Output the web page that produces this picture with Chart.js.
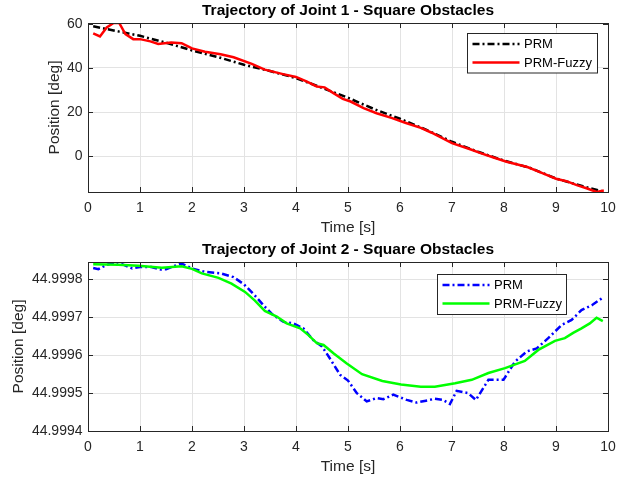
<!DOCTYPE html>
<html>
<head>
<meta charset="utf-8">
<script src="https://cdn.jsdelivr.net/npm/chart.js@4.4.0/dist/chart.umd.min.js"></script>
<style>
  html, body { margin: 0; padding: 0; background: #fff; }
  .panel { position: absolute; left: 0; width: 635px; }
  #panel1 { top: 0; height: 240px; }
  #panel2 { top: 238px; height: 243px; }
</style>
</head>
<body>
<div class="panel" id="panel1"><canvas id="joint1Chart" width="635" height="240"></canvas></div>
<div class="panel" id="panel2"><canvas id="joint2Chart" width="635" height="243"></canvas></div>
<script>
// x axis ticks (shared)
const timeTicks = [0, 1, 2, 3, 4, 5, 6, 7, 8, 9, 10];

// Joint 1 - PRM
const j1PrmTime = [0.1, 0.6, 1.0, 1.5, 2.0, 2.5, 3.0, 3.5, 4.0, 4.5, 5.0, 5.5, 6.0, 6.5, 7.0, 7.5, 8.0, 8.5, 9.0, 9.5, 9.9];
const j1PrmPos = [58.8, 56.4, 54.5, 51.4, 47.9, 44.9, 41.4, 38.6, 35.4, 31.0, 26.5, 21.4, 17.0, 12.1, 6.6, 2.1, -1.9, -5.2, -10.0, -13.4, -15.9];

// Joint 1 - PRM-Fuzzy
const j1FuzzyTime = [0.1, 0.23, 0.36, 0.5, 0.6, 0.72, 0.87, 1.0, 1.2, 1.35, 1.6, 1.8, 2.0, 2.25, 2.55, 2.8, 3.15, 3.4, 3.75, 4.0, 4.2, 4.4, 4.55, 4.72, 4.9, 5.05, 5.3, 5.55, 5.85, 6.1, 6.4, 6.6, 7.0, 7.35, 7.55, 7.8, 8.05, 8.45, 8.75, 9.0, 9.2, 9.4, 9.6, 9.78, 9.92];
const j1FuzzyPos = [55.6, 54.2, 58.3, 60.4, 60.3, 55.3, 53.0, 53.0, 52.0, 50.8, 51.5, 51.2, 48.8, 47.3, 46.2, 44.8, 41.8, 39.2, 37.2, 35.9, 33.9, 31.6, 31.2, 28.6, 26.0, 24.8, 21.8, 19.5, 17.3, 15.2, 12.9, 10.8, 6.0, 3.2, 1.5, -0.5, -2.4, -4.8, -7.7, -10.1, -11.2, -13.0, -14.5, -16.1, -15.4];
const j1Ticks = [0, 20, 40, 60];

// Joint 2 - PRM
const j2PrmTime = [0.1, 0.2, 0.35, 0.55, 0.7, 0.85, 1.0, 1.22, 1.4, 1.5, 1.65, 1.8, 2.0, 2.25, 2.55, 2.8, 3.0, 3.2, 3.4, 3.56, 3.76, 3.95, 4.14, 4.33, 4.5, 4.65, 4.85, 5.0, 5.17, 5.36, 5.55, 5.68, 5.87, 6.13, 6.32, 6.5, 6.67, 6.83, 6.96, 7.09, 7.31, 7.46, 7.7, 7.99, 8.21, 8.44, 8.63, 8.85, 9.11, 9.3, 9.49, 9.69, 9.88];
const j2PrmPos = [44.99983, 44.999827, 44.999838, 44.999846, 44.999838, 44.999829, 44.999833, 44.999833, 44.999826, 44.999827, 44.999835, 44.999842, 44.999829, 44.99982, 44.999816, 44.999806, 44.999787, 44.999759, 44.999728, 44.999706, 44.999688, 44.999684, 44.999671, 44.99964, 44.999623, 44.999592, 44.999548, 44.999533, 44.9995, 44.999478, 44.999487, 44.999484, 44.999496, 44.999482, 44.999475, 44.99948, 44.999485, 44.999482, 44.999471, 44.999506, 44.9995, 44.999482, 44.999535, 44.999535, 44.999583, 44.99961, 44.999618, 44.999645, 44.99968, 44.999693, 44.999719, 44.999732, 44.99975];

// Joint 2 - PRM-Fuzzy
const j2FuzzyTime = [0.1, 0.58, 0.97, 1.42, 1.8, 2.0, 2.19, 2.51, 2.76, 3.02, 3.21, 3.4, 3.63, 3.82, 4.08, 4.24, 4.4, 4.53, 4.72, 4.97, 5.27, 5.66, 6.02, 6.4, 6.67, 7.06, 7.38, 7.7, 8.02, 8.4, 8.66, 8.98, 9.17, 9.33, 9.49, 9.65, 9.78, 9.9];
const j2FuzzyPos = [44.99984, 44.999839, 44.999836, 44.999831, 44.999835, 44.999828, 44.999816, 44.999804, 44.999789, 44.999767, 44.999744, 44.999717, 44.999702, 44.999684, 44.999671, 44.999653, 44.999632, 44.999627, 44.999605, 44.999579, 44.99955, 44.999532, 44.999523, 44.999517, 44.999517, 44.999526, 44.999535, 44.999553, 44.999566, 44.999585, 44.999614, 44.999638, 44.999645, 44.999659, 44.999671, 44.999684, 44.999699, 44.99969];
const j2Ticks = [44.9994, 44.9995, 44.9996, 44.9997, 44.9998];

const AXIS_COLOR = '#262626';
const GRID_COLOR = '#e3e3e3';
const FONT = '"Liberation Sans", Arial, sans-serif';

function toPoints(xs, ys) {
    return xs.map((x, i) => ({ x: x, y: ys[i] }));
}

// draws the title over the plot area, the axes box, inward ticks and a matlab style legend
const matlabAxes = {
    id: 'matlabAxes',
    afterDraw(chart, args, opts) {
        const ctx = chart.ctx;
        const area = chart.chartArea;
        const xs = chart.scales.x;
        const ys = chart.scales.y;
        ctx.save();

        // title centred on the axes
        ctx.fillStyle = '#000';
        ctx.font = 'bold 15.5px ' + FONT;
        ctx.textAlign = 'center';
        ctx.textBaseline = 'middle';
        ctx.fillText(opts.title, (area.left + area.right) / 2, opts.titleY);

        ctx.strokeStyle = AXIS_COLOR;
        ctx.lineWidth = 1;
        ctx.beginPath();
        xs.ticks.forEach(t => {
            const px = Math.round(xs.getPixelForValue(t.value)) + 0.5;
            ctx.moveTo(px, area.bottom); ctx.lineTo(px, area.bottom - 5);
            ctx.moveTo(px, area.top); ctx.lineTo(px, area.top + 5);
        });
        ys.ticks.forEach(t => {
            const py = Math.round(ys.getPixelForValue(t.value)) + 0.5;
            ctx.moveTo(area.left, py); ctx.lineTo(area.left + 5, py);
            ctx.moveTo(area.right, py); ctx.lineTo(area.right - 5, py);
        });
        ctx.stroke();
        ctx.strokeRect(Math.round(area.left) + 0.5, Math.round(area.top) + 0.5,
            Math.round(area.right - area.left), Math.round(area.bottom - area.top));

        // legend
        const lg = opts.legend;
        const bx = Math.round(area.right - lg.right - lg.width) + 0.5;
        const by = Math.round(area.top + lg.top) + 0.5;
        ctx.fillStyle = '#fff';
        ctx.fillRect(bx, by, lg.width, lg.height);
        ctx.strokeStyle = AXIS_COLOR;
        ctx.lineWidth = 1;
        ctx.strokeRect(bx, by, lg.width, lg.height);
        const rows = [10.5, 29];
        chart.data.datasets.forEach((ds, i) => {
            const ry = by + rows[i];
            ctx.beginPath();
            ctx.setLineDash(ds.borderDash || []);
            ctx.strokeStyle = ds.borderColor;
            ctx.lineWidth = ds.borderWidth;
            ctx.moveTo(bx + 5, ry);
            ctx.lineTo(bx + 52, ry);
            ctx.stroke();
            ctx.setLineDash([]);
            ctx.fillStyle = '#000';
            ctx.font = '13px ' + FONT;
            ctx.textBaseline = 'middle';
            ctx.textAlign = 'left';
            ctx.fillText(ds.label, bx + 56.5, ry + 0.5);
        });
        ctx.restore();
    }
};

function makeOptions(cfg) {
    return {
        responsive: false,
        animation: false,
        layout: { padding: { left: 0, right: 27, top: cfg.areaTop, bottom: 0 } },
        plugins: {
            legend: { display: false },
            tooltip: { enabled: false },
            title: { display: false },
            matlabAxes: { title: cfg.title, titleY: cfg.titleY, legend: cfg.legend }
        },
        scales: {
            x: {
                type: 'linear',
                min: 0,
                max: 10,
                afterBuildTicks: s => { s.ticks = timeTicks.map(v => ({ value: v })); },
                afterFit: s => { s.height = cfg.xHeight; },
                grid: { color: GRID_COLOR, drawTicks: false },
                border: { color: AXIS_COLOR },
                ticks: {
                    padding: 8,
                    color: AXIS_COLOR,
                    maxRotation: 0,
                    font: { family: FONT, size: 14 }
                },
                title: {
                    display: true,
                    text: 'Time [s]',
                    color: AXIS_COLOR,
                    font: { family: FONT, size: 15.5 },
                    padding: { top: 0, bottom: cfg.xTitlePad }
                }
            },
            y: {
                type: 'linear',
                min: cfg.yMin,
                max: cfg.yMax,
                afterBuildTicks: s => { s.ticks = cfg.yTicks.map(v => ({ value: v })); },
                afterFit: s => { s.width = 88; },
                grid: { color: GRID_COLOR, drawTicks: false },
                border: { color: AXIS_COLOR },
                ticks: {
                    padding: 5.5,
                    color: AXIS_COLOR,
                    font: { family: FONT, size: 14 },
                    callback: cfg.yFormat
                },
                title: {
                    display: true,
                    text: 'Position [deg]',
                    color: AXIS_COLOR,
                    font: { family: FONT, size: 15.5 },
                    padding: { top: cfg.yTitlePad, bottom: 0 }
                }
            }
        }
    };
}

// Joint 1 chart
new Chart(document.getElementById('joint1Chart').getContext('2d'), {
    type: 'scatter',
    data: {
        datasets: [{
            label: 'PRM',
            data: toPoints(j1PrmTime, j1PrmPos),
            showLine: true,
            borderColor: '#000000',
            borderWidth: 2.5,
            borderDash: [7, 3, 2, 3],
            pointRadius: 0,
            order: 2
        }, {
            label: 'PRM-Fuzzy',
            data: toPoints(j1FuzzyTime, j1FuzzyPos),
            showLine: true,
            borderColor: '#ff0000',
            borderWidth: 2.5,
            pointRadius: 0,
            order: 1
        }]
    },
    options: makeOptions({
        title: 'Trajectory of Joint 1 - Square Obstacles',
        titleY: 11,
        areaTop: 23,
        xHeight: 48,
        xTitlePad: 3.4,
        yTitlePad: 45.2,
        yMin: -16.1,
        yMax: 60.3,
        yTicks: j1Ticks,
        yFormat: v => String(v),
        legend: { right: 11.3, top: 9.6, width: 130, height: 39.5 }
    }),
    plugins: [matlabAxes]
});

// Joint 2 chart
new Chart(document.getElementById('joint2Chart').getContext('2d'), {
    type: 'scatter',
    data: {
        datasets: [{
            label: 'PRM',
            data: toPoints(j2PrmTime, j2PrmPos),
            showLine: true,
            borderColor: '#0000ff',
            borderWidth: 2.5,
            borderDash: [7, 3, 2, 3],
            pointRadius: 0,
            order: 2
        }, {
            label: 'PRM-Fuzzy',
            data: toPoints(j2FuzzyTime, j2FuzzyPos),
            showLine: true,
            borderColor: '#00ff00',
            borderWidth: 2.5,
            pointRadius: 0,
            order: 1
        }]
    },
    options: makeOptions({
        title: 'Trajectory of Joint 2 - Square Obstacles',
        titleY: 12,
        areaTop: 24,
        xHeight: 50,
        xTitlePad: 5.0,
        yTitlePad: 9.2,
        yMin: 44.9994,
        yMax: 44.999846,
        yTicks: j2Ticks,
        yFormat: v => Number(v).toFixed(4),
        legend: { right: 42.3, top: 11.6, width: 129, height: 40 }
    }),
    plugins: [matlabAxes]
});
</script>
</body>
</html>
